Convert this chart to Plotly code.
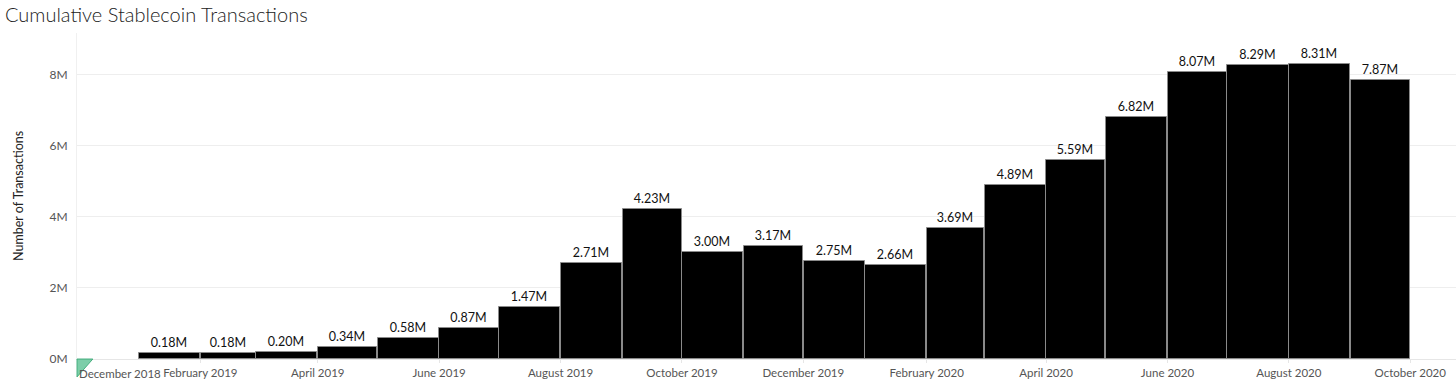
import plotly.graph_objects as go
import pandas as pd

# Data
months = ["2019-01", "2019-02", "2019-03", "2019-04", "2019-05", "2019-06", "2019-07",
          "2019-08", "2019-09", "2019-10", "2019-11", "2019-12", "2020-01", "2020-02",
          "2020-03", "2020-04", "2020-05", "2020-06", "2020-07", "2020-08", "2020-09"]
transactions_m = [0.18, 0.18, 0.20, 0.34, 0.58, 0.87, 1.47, 2.71, 4.23, 3.00, 3.17, 2.75,
                  2.66, 3.69, 4.89, 5.59, 6.82, 8.07, 8.29, 8.31, 7.87]
label_texts = [f"{v:.2f}M" for v in transactions_m]
ytick_vals = [0, 2e6, 4e6, 6e6, 8e6]
ytick_text = ["0M", "2M", "4M", "6M", "8M"]
xtick_dates = ["2019-02-01", "2019-04-01", "2019-06-01", "2019-08-01", "2019-10-01",
               "2019-12-01", "2020-02-01", "2020-04-01", "2020-06-01", "2020-08-01", "2020-10-01"]
xtick_text = ["February 2019", "April 2019", "June 2019", "August 2019", "October 2019",
              "December 2019", "February 2020", "April 2020", "June 2020", "August 2020",
              "October 2020"]
first_tick_date = "2018-12-01"
first_tick_text = "December 2018"

starts = pd.to_datetime([m + "-01" for m in months])
ends = starts + pd.offsets.MonthBegin(1)
DAY_MS = 86400000
widths = [((e - s).days - 0.3) * DAY_MS for s, e in zip(starts, ends)]
values = [v * 1e6 for v in transactions_m]

FONT = "Lato"

fig = go.Figure()
fig.add_trace(go.Bar(
    x=starts, y=values, width=widths, offset=0.15 * DAY_MS,
    marker=dict(color="#000000", line=dict(color="#8a8a8a", width=1)),
    text=label_texts, textposition="outside", cliponaxis=False,
    textfont=dict(family=FONT, size=12.5, color="#111111"),
    hoverinfo="skip",
))

fig.update_layout(
    width=1456, height=391,
    margin=dict(l=77, r=0, t=33, b=32),
    paper_bgcolor="white", plot_bgcolor="white",
    showlegend=False, bargap=0,
    title=dict(text="Cumulative Stablecoin Transactions", x=5 / 1456, xref="container",
               xanchor="left", y=1 - 15 / 391, yref="container", yanchor="middle",
               font=dict(family=FONT, size=20, color="#222222", weight=300)),
    xaxis=dict(
        type="date",
        range=["2018-12-01", "2020-10-24"],
        tickvals=xtick_dates, ticktext=xtick_text,
        tickfont=dict(family=FONT, size=11.5, color="#555555"),
        showgrid=False, showline=True, linecolor="#e6e6e6", linewidth=1,
        ticks="outside", ticklen=3, tickcolor="#e6e6e6",
        zeroline=False,
    ),
    yaxis=dict(
        range=[0, 9.18e6],
        tickvals=ytick_vals, ticktext=ytick_text,
        tickfont=dict(family=FONT, size=12, color="#555555"),
        showgrid=True, gridcolor="#eeeeee", gridwidth=1,
        showline=True, linecolor="#f0f0f0", linewidth=1,
        zeroline=True, zerolinecolor="#dddddd", zerolinewidth=1,
        ticks="", ticklabelstandoff=6,
    ),
)

fig.add_annotation(text=first_tick_text, x=first_tick_date, xref="x", xanchor="left",
                   y=-14 / 326, yref="paper", yanchor="middle", showarrow=False,
                   font=dict(family=FONT, size=11.5, color="#555555"))
fig.add_annotation(text="Number of Transactions", x=-59 / 1379, xref="paper", xanchor="center",
                   y=0.5, yref="paper", yanchor="middle", textangle=-90, showarrow=False,
                   font=dict(family=FONT, size=12.5, color="#222222"))
# small green null indicator at the axis origin
fig.add_shape(type="path", xref="paper", yref="paper",
              path="M 0 0 L 0.0115 0 L 0 -0.055 Z",
              fillcolor="rgba(80,190,140,0.75)", line=dict(color="rgba(60,170,120,0.9)", width=1))

fig.write_html("out.html", config={"displayModeBar": False},
               post_script="document.body.style.margin='0';document.body.style.padding='0';")
